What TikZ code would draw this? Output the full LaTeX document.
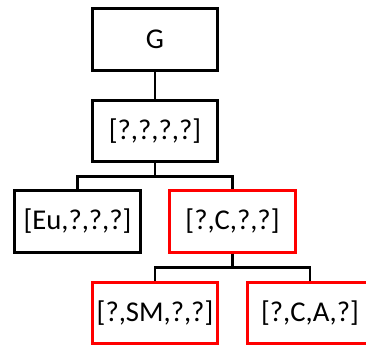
\documentclass[tikz,border=0pt]{standalone}
\usepackage{fontspec}
\setmainfont{Carlito}
\usetikzlibrary{positioning}

\begin{document}
\begin{tikzpicture}[x=0.75pt,y=-0.75pt,
    box/.style={draw=black,line width=2.2pt,minimum width=94pt,minimum height=46pt,
        inner sep=0pt,font=\fontsize{21.5}{24}\selectfont},
    hit/.style={box,draw=red},
    link/.style={line width=2.2pt}]
    \useasboundingbox (0,0) rectangle (366,347);

    \node[box] (g) at (155,39.5) {G};
    \node[box] (all) at (155,131) {[?,?,?,?]};
    \node[box] (eu) at (77.5,221.5) {[Eu,?,?,?]};
    \node[hit] (c) at (232.5,221.5) {[?,C,?,?]};
    \node[hit] (sm) at (155,313) {[?,SM,?,?]};
    \node[hit] (ca) at (310,313) {[?,C,A,?]};

    \draw[link] (g.south) -- (all.north);
    \draw[link] (all.south) -- ++(0,13) -| (eu.north);
    \draw[link] (all.south) -- ++(0,13) -| (c.north);
    \draw[link] (c.south) -- ++(0,14) -| (sm.north);
    \draw[link] (c.south) -- ++(0,14) -| (ca.north);
\end{tikzpicture}
\end{document}
